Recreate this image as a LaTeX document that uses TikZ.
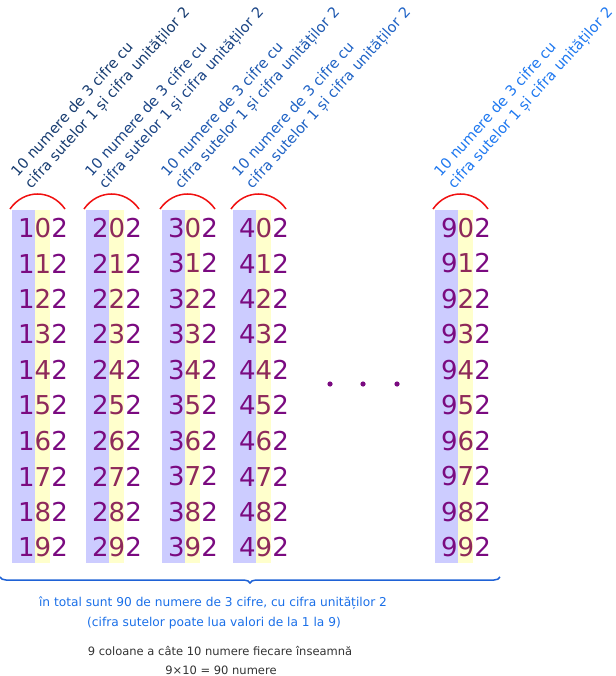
\documentclass[tikz,border=0pt]{standalone}
\usepackage{fontspec}
\setmainfont{DejaVu Sans}
\usetikzlibrary{decorations.pathreplacing}
\definecolor{sute}{HTML}{CCCCFF}
\definecolor{zeci}{HTML}{FFFFCC}
\definecolor{cifra}{HTML}{7A0A80}
\definecolor{cifrab}{HTML}{8E2A5A}
\definecolor{arc}{HTML}{F01010}
\definecolor{acolada}{HTML}{1F62D6}
\definecolor{info}{HTML}{1A6FE8}
\definecolor{gri}{HTML}{333333}
\definecolor{eti1}{HTML}{173C70}
\definecolor{eti2}{HTML}{1A4485}
\definecolor{eti3}{HTML}{1D58B0}
\definecolor{eti4}{HTML}{1F63C6}
\definecolor{eti9}{HTML}{1E78F0}

\begin{document}
\begin{tikzpicture}[x=1pt, y=-1pt, every node/.style={inner sep=0pt}]
    \useasboundingbox (0,0) rectangle (615,676);
    \foreach \h/\x in {1/12, 2/86, 3/162, 4/233, 9/435}{
      \fill[sute] (\x,210) rectangle ++(23,353);
      \fill[zeci] (\x+23,210) rectangle ++(15,353);
      \draw[arc, line width=1.5pt] (\x-2,209) .. controls (\x+12,189) and (\x+39,189) .. (\x+53,209);
      \node[rotate=48, anchor=south west, align=left, text=eti\h, font=\fontsize{14.5}{18.5}\selectfont] (eticheta\h) at (\x+22,192) {10 numere de 3 cifre cu\\cifra sutelor 1 și cifra unităților 2};
      \foreach \z in {0,...,9}
        \node[font=\fontsize{26}{26}\selectfont] (n\h\z) at (\x+31,228+35.5*\z) {\textcolor{cifra}{\h}\textcolor{cifrab}{\z}\textcolor{cifra}{2}};
    }
    \fill[cifra] (330,384) circle (2.6pt) (363,384) circle (2.6pt) (397,384) circle (2.6pt);
    \draw[acolada, line width=1.5pt, decorate, decoration={brace, mirror, amplitude=6pt}] (0,577) -- (500,577);
    \node[text=info, font=\fontsize{12.2}{15}\selectfont] (total) at (213,603) {în total sunt 90 de numere de 3 cifre, cu cifra unităților 2};
    \node[text=info, font=\fontsize{12.2}{15}\selectfont] (sutele) at (214,623) {(cifra sutelor poate lua valori de la 1 la 9)};
    \node[text=gri, font=\fontsize{11.5}{14}\selectfont] (coloane) at (220,651) {9 coloane a câte 10 numere fiecare înseamnă};
    \node[text=gri, font=\fontsize{11.5}{14}\selectfont] (produs) at (221,670) {9×10 = 90 numere};
  \end{tikzpicture}
\end{document}
